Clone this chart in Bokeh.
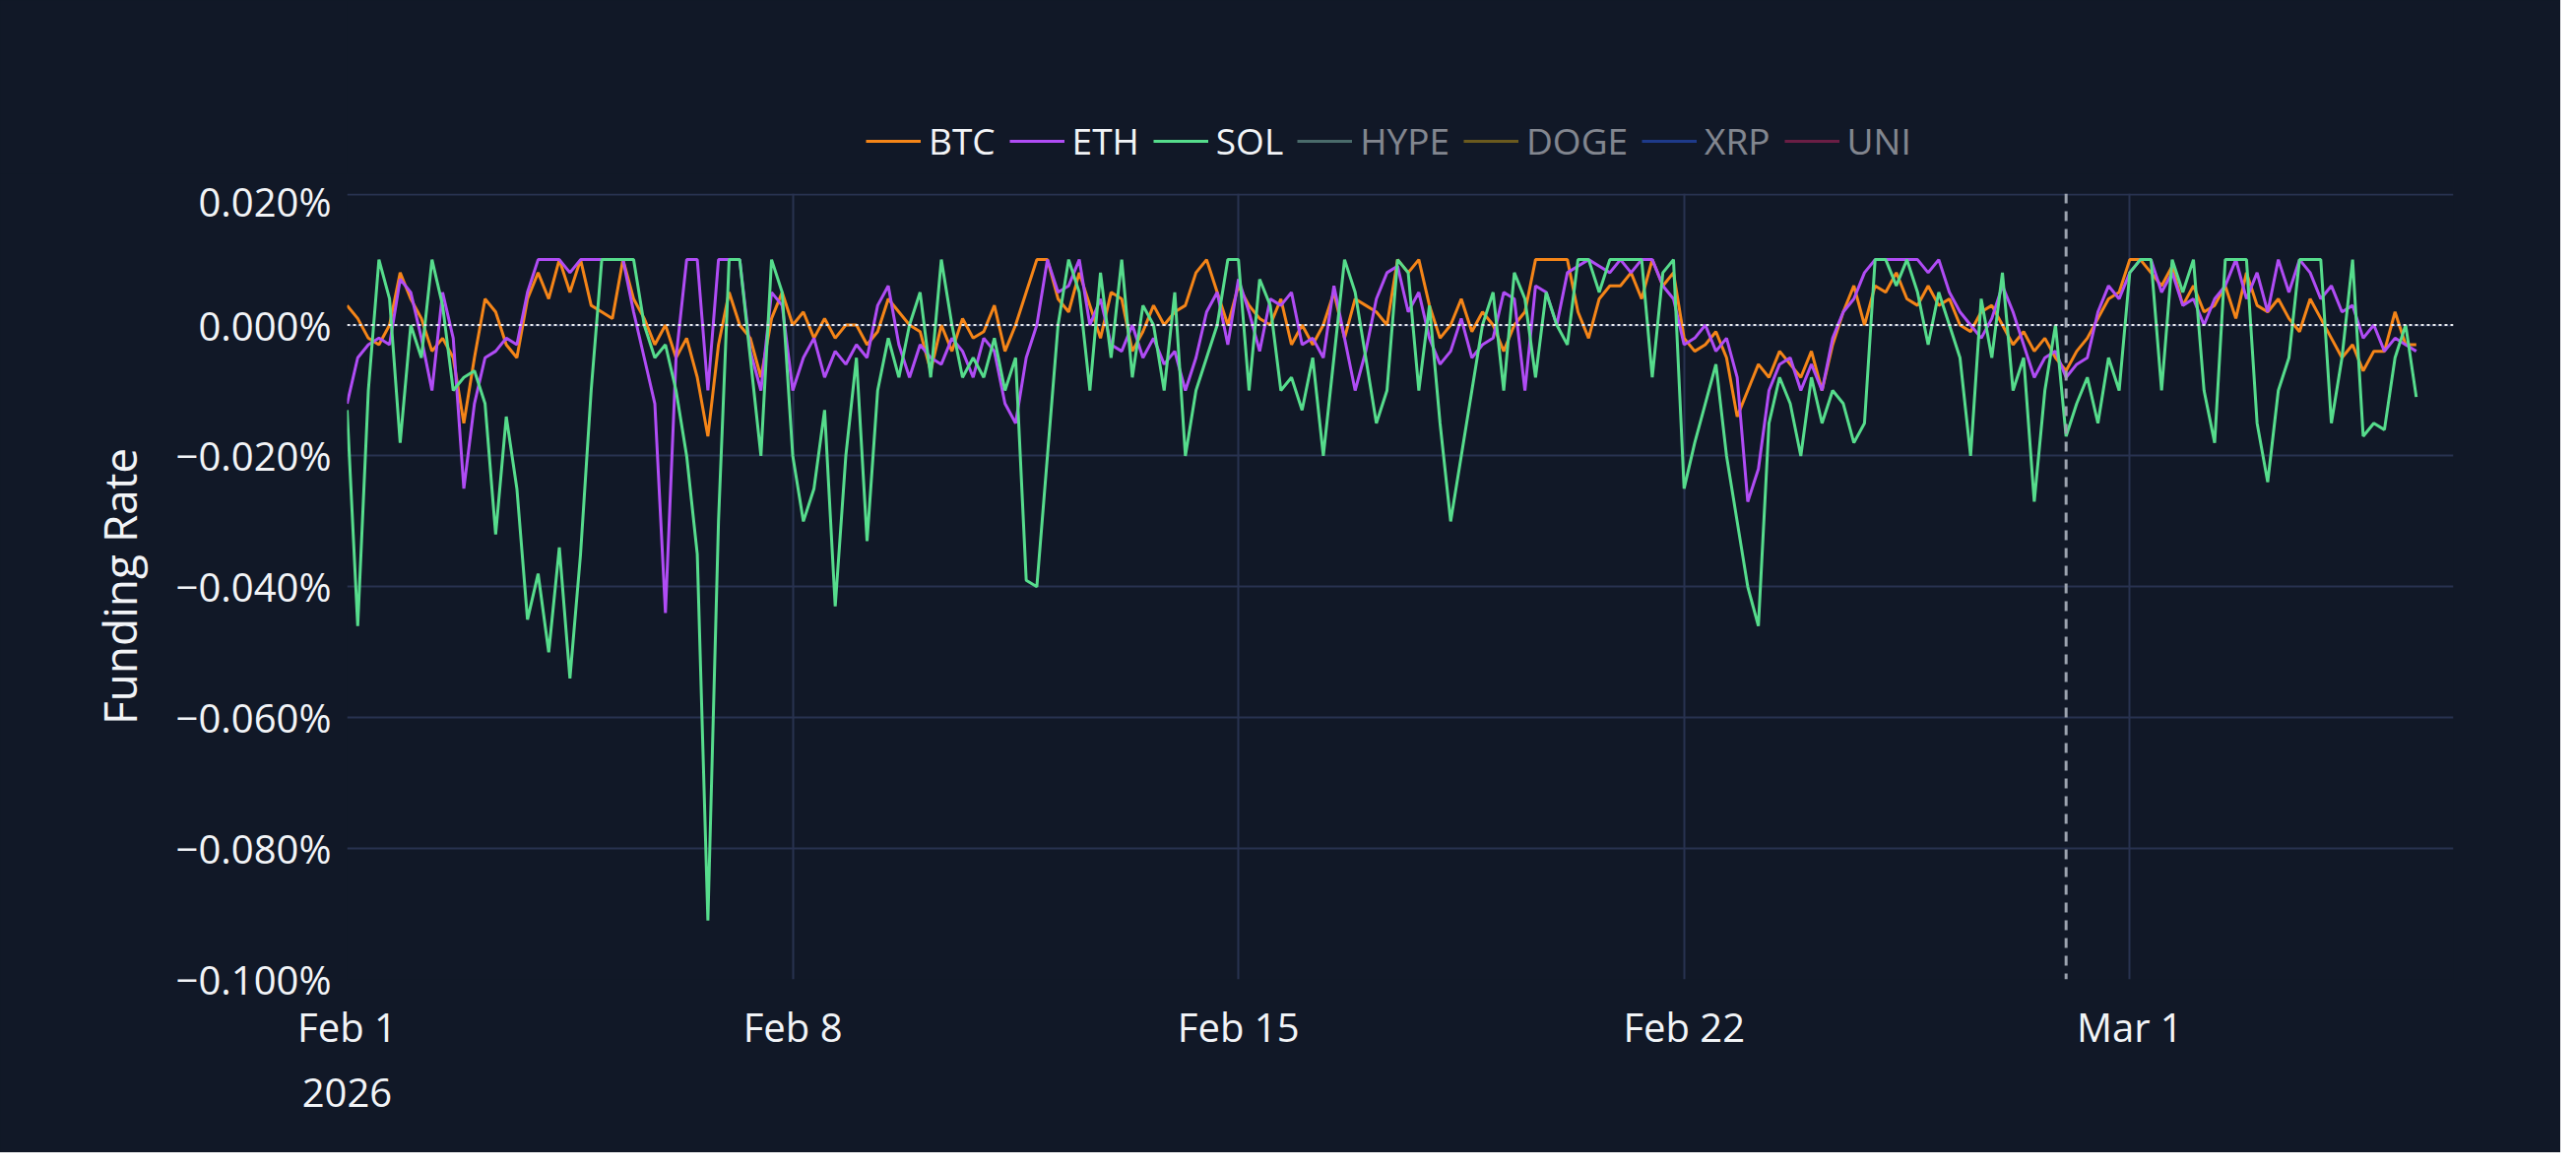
import pandas as pd
from bokeh.plotting import figure
from bokeh.layouts import column
from bokeh.models import Span, Legend, LegendItem, FixedTicker, Range1d
from bokeh.embed import file_html
from bokeh.resources import INLINE

sol = [-0.013,-0.046,-0.01,0.01,0.004,-0.018,
0.0,-0.005,0.01,0.003,-0.01,-0.008,
-0.007,-0.012,-0.032,-0.014,-0.025,-0.045,
-0.038,-0.05,-0.034,-0.054,-0.035,-0.01,
0.01,0.01,0.01,0.01,0.0,-0.005,
-0.003,-0.01,-0.02,-0.035,-0.091,-0.03,
0.01,0.01,-0.005,-0.02,0.01,0.005,
-0.02,-0.03,-0.025,-0.013,-0.043,-0.02,
-0.005,-0.033,-0.01,-0.002,-0.008,0.0,
0.005,-0.008,0.01,0.0,-0.008,-0.005,
-0.008,-0.002,-0.01,-0.005,-0.039,-0.04,
-0.02,0.0,0.01,0.005,-0.01,0.008,
-0.005,0.01,-0.008,0.003,0.0,-0.01,
0.005,-0.02,-0.01,-0.005,0.0,0.01,
0.01,-0.01,0.007,0.003,-0.01,-0.008,
-0.013,-0.005,-0.02,-0.005,0.01,0.005,
-0.005,-0.015,-0.01,0.01,0.008,-0.01,
0.003,-0.015,-0.03,-0.02,-0.01,0.0,
0.005,-0.01,0.008,0.004,-0.008,0.005,
0.0,-0.003,0.01,0.01,0.005,0.01,
0.01,0.01,0.01,-0.008,0.008,0.01,
-0.025,-0.018,-0.012,-0.006,-0.02,-0.03,
-0.04,-0.046,-0.015,-0.008,-0.012,-0.02,
-0.008,-0.015,-0.01,-0.012,-0.018,-0.015,
0.01,0.01,0.006,0.01,0.005,-0.003,
0.005,0.0,-0.005,-0.02,0.004,-0.005,
0.008,-0.01,-0.005,-0.027,-0.01,0.0,
-0.017,-0.012,-0.008,-0.015,-0.005,-0.01,
0.008,0.01,0.01,-0.01,0.01,0.005,
0.01,-0.01,-0.018,0.01,0.01,0.01,
-0.015,-0.024,-0.01,-0.005,0.01,0.01,
0.01,-0.015,-0.005,0.01,-0.017,-0.015,
-0.016,-0.005,0.0,-0.011]

btc = [0.003,0.001,-0.002,-0.003,0.0,0.008,
0.004,0.001,-0.004,-0.002,-0.005,-0.015,
-0.005,0.004,0.002,-0.003,-0.005,0.004,
0.008,0.004,0.01,0.005,0.01,0.003,
0.002,0.001,0.01,0.004,0.001,-0.003,
0.0,-0.005,-0.002,-0.008,-0.017,-0.003,
0.005,0.0,-0.002,-0.008,0.001,0.005,
0.0,0.002,-0.002,0.001,-0.002,0.0,
0.0,-0.003,-0.001,0.004,0.002,0.0,
-0.001,-0.007,0.0,-0.004,0.001,-0.002,
-0.001,0.003,-0.004,0.0,0.005,0.01,
0.01,0.004,0.002,0.008,0.003,-0.002,
0.005,0.004,-0.004,-0.001,0.003,0.0,
0.002,0.003,0.008,0.01,0.005,0.0,
0.006,0.003,0.001,0.0,0.004,-0.003,
0.0,-0.003,0.0,0.005,-0.002,0.004,
0.003,0.002,0.0,0.01,0.008,0.01,
0.003,-0.002,0.0,0.004,-0.001,0.002,
0.0,-0.004,0.0,0.002,0.01,0.01,
0.01,0.01,0.002,-0.002,0.004,0.006,
0.006,0.008,0.004,0.01,0.006,0.008,
-0.002,-0.004,-0.003,-0.001,-0.005,-0.014,
-0.01,-0.006,-0.008,-0.004,-0.006,-0.008,
-0.004,-0.01,-0.003,0.002,0.006,0.0,
0.006,0.005,0.008,0.004,0.003,0.006,
0.003,0.004,0.0,-0.001,0.002,0.003,
0.0,-0.003,-0.001,-0.004,-0.002,-0.005,
-0.007,-0.004,-0.002,0.001,0.004,0.005,
0.01,0.01,0.008,0.006,0.009,0.003,
0.006,0.002,0.003,0.006,0.001,0.008,
0.003,0.002,0.004,0.001,-0.001,0.004,
0.001,-0.002,-0.005,-0.003,-0.007,-0.004,
-0.004,0.002,-0.003,-0.003]

eth = [-0.012,-0.005,-0.003,-0.002,-0.003,0.007,
0.005,-0.002,-0.01,0.005,-0.002,-0.025,
-0.012,-0.005,-0.004,-0.002,-0.003,0.005,
0.01,0.01,0.01,0.008,0.01,0.01,
0.01,0.01,0.01,0.002,-0.005,-0.012,
-0.044,-0.005,0.01,0.01,-0.01,0.01,
0.01,0.01,-0.004,-0.01,0.005,0.003,
-0.01,-0.005,-0.002,-0.008,-0.004,-0.006,
-0.003,-0.005,0.003,0.006,-0.003,-0.008,
-0.003,-0.005,-0.006,-0.002,-0.004,-0.008,
-0.002,-0.004,-0.012,-0.015,-0.005,0.0,
0.01,0.005,0.006,0.01,0.0,0.004,
-0.003,-0.004,0.0,-0.005,-0.002,-0.006,
-0.004,-0.01,-0.005,0.002,0.005,-0.003,
0.007,0.002,-0.004,0.004,0.003,0.005,
-0.003,-0.002,-0.005,0.006,-0.002,-0.01,
-0.004,0.004,0.008,0.009,0.002,0.005,
-0.002,-0.006,-0.004,0.001,-0.005,-0.003,
-0.002,0.005,0.004,-0.01,0.006,0.005,
0.0,0.008,0.009,0.01,0.009,0.008,
0.01,0.008,0.01,0.01,0.006,0.004,
-0.003,-0.002,0.0,-0.004,-0.002,-0.008,
-0.027,-0.022,-0.01,-0.006,-0.005,-0.01,
-0.006,-0.01,-0.002,0.002,0.004,0.008,
0.01,0.01,0.01,0.01,0.01,0.008,
0.01,0.005,0.002,0.0,-0.002,0.001,
0.006,0.002,-0.003,-0.008,-0.005,-0.004,
-0.008,-0.006,-0.005,0.002,0.006,0.004,
0.008,0.01,0.01,0.005,0.008,0.003,
0.004,0.0,0.004,0.006,0.01,0.004,
0.008,0.002,0.01,0.005,0.01,0.008,
0.004,0.006,0.002,0.003,-0.002,0.0,
-0.004,-0.002,-0.003,-0.004]

series_names = ["BTC", "ETH", "SOL", "HYPE", "DOGE", "XRP", "UNI"]
series_colors = ["#f58518", "#b04cf5", "#56dc8c", "#83beaf", "#c59c15", "#2b5ced", "#c52463"]
y_ticks = [0.02, 0.0, -0.02, -0.04, -0.06, -0.08, -0.1]
y_labels = ["0.020%", "0.000%", "\u22120.020%", "\u22120.040%", "\u22120.060%", "\u22120.080%", "\u22120.100%"]
x_ticks = ["2026-02-01", "2026-02-08", "2026-02-15", "2026-02-22", "2026-03-01"]
x_labels = ["Feb 1\n2026", "Feb 8", "Feb 15", "Feb 22", "Mar 1"]
marker_date = "2026-02-28"

t = pd.date_range("2026-02-01", periods=len(sol), freq="4h")
data = {"BTC": btc, "ETH": eth, "SOL": sol}

BG = "#111827"
TXT = "#f2f4f7"
GRID = "#283250"

def ms(s):
    return pd.Timestamp(s).value / 1e6

# legend strip
lf = figure(width=2600, height=176, output_backend="svg", toolbar_location=None,
            background_fill_color=BG, border_fill_color=BG, outline_line_color=None,
            min_border=0, x_range=Range1d(0, 1), y_range=Range1d(0, 1))
lf.axis.visible = False
lf.grid.visible = False

p = figure(width=2600, height=994, x_axis_type="datetime", output_backend="svg",
           toolbar_location=None, background_fill_color=BG, border_fill_color=BG,
           min_border_left=352, min_border_right=109, min_border_top=20, min_border_bottom=176,
           outline_line_color=None)
p.x_range = Range1d(ms("2026-02-01"), ms("2026-03-06 02:00"))
p.y_range = Range1d(-0.1, 0.0201)

p.xgrid.grid_line_color = GRID
p.ygrid.grid_line_color = GRID
p.xgrid.grid_line_width = 2
p.ygrid.grid_line_width = 2

items = []
for name, col in zip(series_names, series_colors):
    if name in data:
        p.line(t, data[name], line_color=col, line_width=3)
        r = lf.line([2, 3], [2, 3], line_color=col, line_width=3)
    else:
        r = lf.line([2, 3], [2, 3], line_color=col, line_width=3, visible=False)
    items.append(LegendItem(label=name, renderers=[r]))

legend = Legend(items=items, orientation="horizontal", location=(527, 8), click_policy="hide",
                background_fill_alpha=0, border_line_color=None,
                label_text_color=TXT, label_text_font_size="37px", label_text_font="Open Sans",
                glyph_width=56, glyph_height=30, label_standoff=8, spacing=14,
                margin=0, padding=0,
                inactive_fill_color=BG, inactive_fill_alpha=0.5)
lf.add_layout(legend)

p.add_layout(Span(location=0, dimension="width", line_color="#e5e7eb", line_dash="3 3", line_width=2))
p.add_layout(Span(location=ms(marker_date), dimension="height", line_color="#9ca3af", line_dash="10 8", line_width=3))

p.xaxis.ticker = FixedTicker(ticks=[ms(d) for d in x_ticks])
p.xaxis.major_label_overrides = {ms(d): l for d, l in zip(x_ticks, x_labels)}
p.yaxis.ticker = FixedTicker(ticks=y_ticks)
p.yaxis.major_label_overrides = {v: l for v, l in zip(y_ticks, y_labels)}
for ax in (p.xaxis, p.yaxis):
    ax.axis_line_color = None
    ax.major_tick_line_color = None
    ax.minor_tick_line_color = None
    ax.major_label_text_color = TXT
    ax.major_label_text_font_size = "40px"
    ax.major_label_text_font = "Open Sans"
p.xaxis.major_label_standoff = 14
p.yaxis.major_label_standoff = 10
p.yaxis.axis_label = "Funding Rate"
p.yaxis.axis_label_text_color = TXT
p.yaxis.axis_label_text_font_size = "46px"
p.yaxis.axis_label_text_font = "Open Sans"
p.yaxis.axis_label_text_font_style = "normal"
p.yaxis.axis_label_standoff = 24

layout = column(lf, p, spacing=0, styles={"background-color": BG})
open("out.html", "w").write(file_html(layout, INLINE))
